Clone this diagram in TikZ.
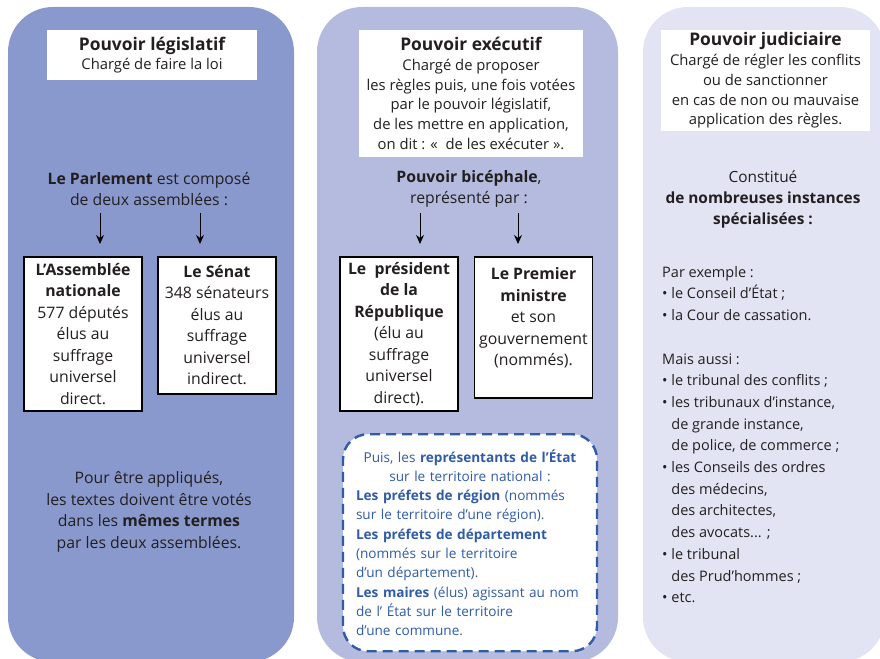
\documentclass[tikz,border=0pt]{standalone}
\usepackage{fontspec}
\setmainfont{Open Sans}
\usetikzlibrary{arrows.meta}

\definecolor{legiscol}{HTML}{8A99CD}
\definecolor{execcol}{HTML}{B4BBDF}
\definecolor{judiccol}{HTML}{E2E4F3}
\definecolor{inkgray}{HTML}{231F20}
\definecolor{prefblue}{HTML}{2F5BA7}

\tikzset{
  titlebox/.style={fill=white, inner sep=0pt, align=center, text=inkgray,
    font=\fontsize{14.8}{19.7}\selectfont},
  orgbox/.style={draw=black, line width=1.6pt, fill=white, anchor=north, align=center,
    inner sep=0pt, minimum width=118pt, text=inkgray, font=\fontsize{15.8}{21.5}\selectfont},
  bodytext/.style={align=center, inner sep=0pt, text=inkgray, font=\fontsize{15.8}{21.5}\selectfont},
}
\newcommand{\ptitle}[1]{{\fontsize{17.4}{21}\selectfont\bfseries #1}}

\begin{document}
\begin{tikzpicture}[x=1pt, y=-1pt, >={Stealth[length=9pt,width=8pt]}]
    \useasboundingbox (0,0) rectangle (880,658);
    % the three columns
    \fill[legiscol, rounded corners=45pt] (8,7) rectangle (294,662);
    \fill[execcol, rounded corners=45pt] (317,7) rectangle (618,662);
    \fill[judiccol, rounded corners=45pt] (643,7) rectangle (885,662);

    % pouvoir legislatif
    \node[titlebox, minimum width=210pt, minimum height=50pt] (legis) at (152,55)
        {\ptitle{Pouvoir législatif}\\Chargé de faire la loi};
    \node[bodytext] (parl) at (149,189) {\textbf{Le Parlement} est composé\\de deux assemblées :};
    \node[orgbox, minimum height=154pt] (an) at (83,256)
        {\textbf{L’Assemblée}\\\textbf{nationale}\\577 députés\\élus au\\suffrage\\universel\\direct.};
    \node[orgbox, minimum height=137pt] (senat) at (217,256)
        {\textbf{Le Sénat}\\348 sénateurs\\élus au\\suffrage\\universel\\indirect.};
    \coordinate (p1) at (100,213);
    \coordinate (p2) at (200,213);
    \draw[->, line width=1pt] (p1) -- (p1 |- an.north) [shorten >=12pt];
    \draw[->, line width=1pt] (p2) -- (p2 |- senat.north) [shorten >=12pt];
    \node[bodytext] (termes) at (149,512) {Pour être appliqués,\\les textes doivent être votés\\dans les \textbf{mêmes termes}\\par les deux assemblées.};

    % pouvoir executif
    \node[titlebox, minimum width=224pt, minimum height=127pt] (exec) at (471,93.5)
        {\ptitle{Pouvoir exécutif}\\Chargé de proposer\\les règles puis, une fois votées\\par le pouvoir législatif,\\de les mettre en application,\\on dit : «~ de les exécuter ».};
    \node[bodytext] (biceph) at (469,189) {\textbf{Pouvoir bicéphale},\\représenté par :};
    \node[orgbox, minimum height=154pt] (pres) at (399,256)
        {\textbf{Le~ président}\\\textbf{de la}\\\textbf{République}\\(élu au\\suffrage\\universel\\direct).};
    \node[orgbox, minimum height=141pt] (pm) at (533.5,256)
        {\textbf{Le Premier}\\\textbf{ministre}\\et son\\gouvernement\\(nommés).\\\mbox{}};
    \coordinate (p3) at (420,213);
    \coordinate (p4) at (518,213);
    \draw[->, line width=1pt] (p3) -- (p3 |- pres.north) [shorten >=12pt];
    \draw[->, line width=1pt] (p4) -- (p4 |- pm.north) [shorten >=12pt];
    \node[draw=prefblue, line width=2.4pt, dash pattern=on 10pt off 6pt, fill=white,
        rounded corners=25pt, anchor=north, minimum height=217pt, text width=228pt,
        inner xsep=13pt, align=left, text=prefblue, font=\fontsize{13.6}{19.3}\selectfont] (prefets) at (470,433)
        {\makebox[\linewidth][c]{Puis, les \textbf{représentants de l’État}}\\
         \makebox[\linewidth][c]{sur le territoire national :}\\
         \textbf{Les préfets de région} (nommés\\
         sur le territoire d’une région).\\
         \textbf{Les préfets de département}\\
         (nommés sur le territoire\\
         d’un département).\\
         \textbf{Les maires} (élus) agissant au nom\\
         de l’ État sur le territoire\\
         d’une commune.};

    % pouvoir judiciaire
    \node[titlebox, minimum width=209pt, minimum height=101pt] (judic) at (765.5,80.5)
        {\ptitle{Pouvoir judiciaire}\\Chargé de régler les conflits\\ou de sanctionner\\en cas de non ou mauvaise\\application des règles.};
    \node[bodytext, font=\fontsize{15.4}{21}\selectfont] (instances) at (763,199) {Constitué\\\textbf{de nombreuses instances}\\\textbf{spécialisées :}};
    \node[bodytext, align=left, anchor=north west, font=\fontsize{14.5}{21.7}\selectfont] (liste) at (662,266)
        {Par exemple :\\
         \textbullet\ le Conseil d’État ;\\
         \textbullet\ la Cour de cassation.\\[21.7pt]
         Mais aussi :\\
         \textbullet\ le tribunal des conflits ;\\
         \textbullet\ les tribunaux d’instance,\\
         \phantom{\textbullet\ }de grande instance,\\
         \phantom{\textbullet\ }de police, de commerce ;\\
         \textbullet\ les Conseils des ordres\\
         \phantom{\textbullet\ }des médecins,\\
         \phantom{\textbullet\ }des architectes,\\
         \phantom{\textbullet\ }des avocats... ;\\
         \textbullet\ le tribunal\\
         \phantom{\textbullet\ }des Prud’hommes ;\\
         \textbullet\ etc.};
\end{tikzpicture}
\end{document}
